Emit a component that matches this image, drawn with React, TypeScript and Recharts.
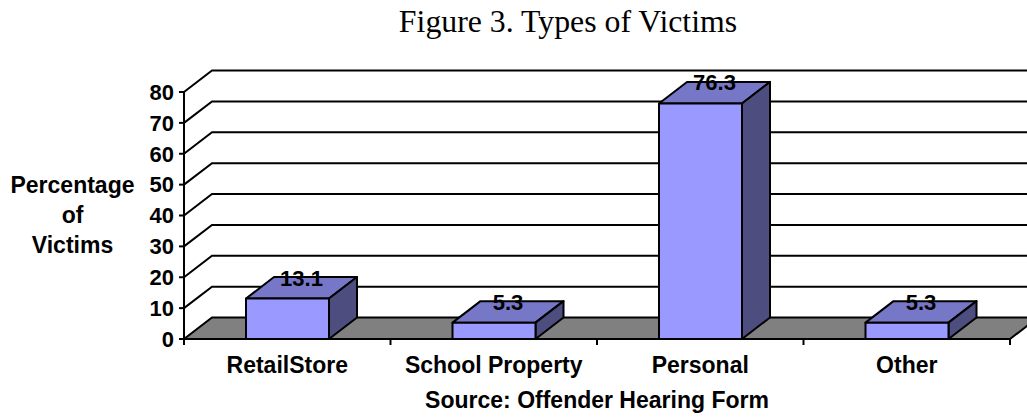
import { BarChart, Bar, XAxis, YAxis, CartesianGrid, LabelList } from 'recharts';

const categories = ['RetailStore', 'School Property', 'Personal', 'Other'];
const percentages = [13.1, 5.3, 76.3, 5.3];
const yTicks = [0, 10, 20, 30, 40, 50, 60, 70, 80];
const yTitleLines = ['Percentage', 'of', 'Victims'];
const title = 'Figure 3. Types of Victims';
const source = 'Source: Offender Hearing Form';

const data = categories.map((name, i) => ({ name, value: percentages[i] }));

const W = 1027;
const H = 419;
const MARGIN = { top: 92, right: 17, left: 0, bottom: 0 };
const Y_AXIS_W = 184;
const X_AXIS_H = 80;
// 3D depth offset used by the wall, floor and bars
const DX = 28;
const DY = -21.5;
const SANS = '"Liberation Sans", Arial, sans-serif';
const BAND = (W - MARGIN.left - Y_AXIS_W - MARGIN.right) / categories.length;

const WallLine = (props: any) => {
  const { x1, y1, x2, y, height } = props;
  const isFloor = Math.abs(y1 - (y + height)) < 1;
  if (isFloor) {
    return (
      <g>
        <polygon
          points={`${x1},${y1} ${x2},${y1} ${x2 + DX},${y1 + DY} ${x1 + DX},${y1 + DY}`}
          fill="#808080"
          stroke="#000"
          strokeWidth={2}
        />
      </g>
    );
  }
  return (
    <path
      d={`M${x1},${y1} L${x1 + DX},${y1 + DY} L${x2 + DX},${y1 + DY}`}
      fill="none"
      stroke="#000"
      strokeWidth={2}
    />
  );
};

const Bar3D = (props: any) => {
  const { x, y, width, height } = props;
  const r = x + width;
  const b = y + height;
  return (
    <g stroke="#000" strokeWidth={2} strokeLinejoin="round">
      <polygon points={`${x},${y} ${x + DX},${y + DY} ${r + DX},${y + DY} ${r},${y}`} fill="#7777C8" />
      <polygon points={`${r},${y} ${r + DX},${y + DY} ${r + DX},${b + DY} ${r},${b}`} fill="#4D4D80" />
      <rect x={x} y={y} width={width} height={height} fill="#9999FF" />
    </g>
  );
};

const ValueLabel = (props: any) => {
  const { x, y, width, value } = props;
  return (
    <text
      x={x + width / 2 + DX / 2}
      y={y - 13}
      textAnchor="middle"
      fontFamily={SANS}
      fontWeight="bold"
      fontSize={22}
      fill="#000"
    >
      {value}
    </text>
  );
};

const CategoryTick = (props: any) => {
  const { x, y, payload, index } = props;
  const left = x - BAND / 2;
  return (
    <g>
      <line x1={left} y1={y - 6} x2={left} y2={y} stroke="#000" strokeWidth={2} />
      {index === categories.length - 1 && (
        <line x1={left + BAND} y1={y - 6} x2={left + BAND} y2={y} stroke="#000" strokeWidth={2} />
      )}
      <text x={x} y={y + 28} textAnchor="middle" fontFamily={SANS} fontWeight="bold" fontSize={23} fill="#000">
        {payload.value}
      </text>
    </g>
  );
};

const SourceLabel = (props: any) => {
  const { viewBox } = props;
  return (
    <text
      x={viewBox.x + viewBox.width / 2}
      y={viewBox.y + 69}
      textAnchor="middle"
      fontFamily={SANS}
      fontWeight="bold"
      fontSize={23}
      fill="#000"
    >
      {source}
    </text>
  );
};

const YTitle = (props: any) => {
  const { viewBox } = props;
  const cy = viewBox.y + viewBox.height / 2;
  return (
    <text textAnchor="middle" fontFamily={SANS} fontWeight="bold" fontSize={23} fill="#000">
      {yTitleLines.map((line, i) => (
        <tspan key={line} x={72.5} y={cy - 22.5 + i * 30}>
          {line}
        </tspan>
      ))}
    </text>
  );
};

export default function App() {
  return (
    <div style={{ position: 'absolute', left: 0, top: 0, width: W, height: H, background: '#fff' }}>
      <div
        style={{
          position: 'absolute',
          left: 268,
          top: 6,
          width: 600,
          textAlign: 'center',
          fontFamily: '"Liberation Serif", "Times New Roman", serif',
          fontSize: 31.8,
          lineHeight: '31px',
          color: '#000',
        }}
      >
        {title}
      </div>
      <BarChart width={W} height={H} data={data} margin={MARGIN}>
        <CartesianGrid vertical={false} horizontal={WallLine} />
        <XAxis
          dataKey="name"
          height={X_AXIS_H}
          tickLine={false}
          tickSize={6}
          tickMargin={0}
          interval={0}
          axisLine={{ stroke: '#000', strokeWidth: 2 }}
          tick={CategoryTick}
          label={<SourceLabel />}
        />
        <YAxis
          width={Y_AXIS_W}
          domain={[0, 80]}
          ticks={yTicks}
          interval={0}
          tickSize={5}
          tickMargin={5}
          axisLine={{ stroke: '#000', strokeWidth: 2 }}
          tickLine={{ stroke: '#000', strokeWidth: 2 }}
          tick={{ fill: '#000', fontFamily: SANS, fontWeight: 'bold', fontSize: 22 }}
          label={<YTitle />}
        />
        <Bar dataKey="value" barSize={83} shape={Bar3D} isAnimationActive={false}>
          <LabelList dataKey="value" content={ValueLabel} />
        </Bar>
      </BarChart>
    </div>
  );
}
